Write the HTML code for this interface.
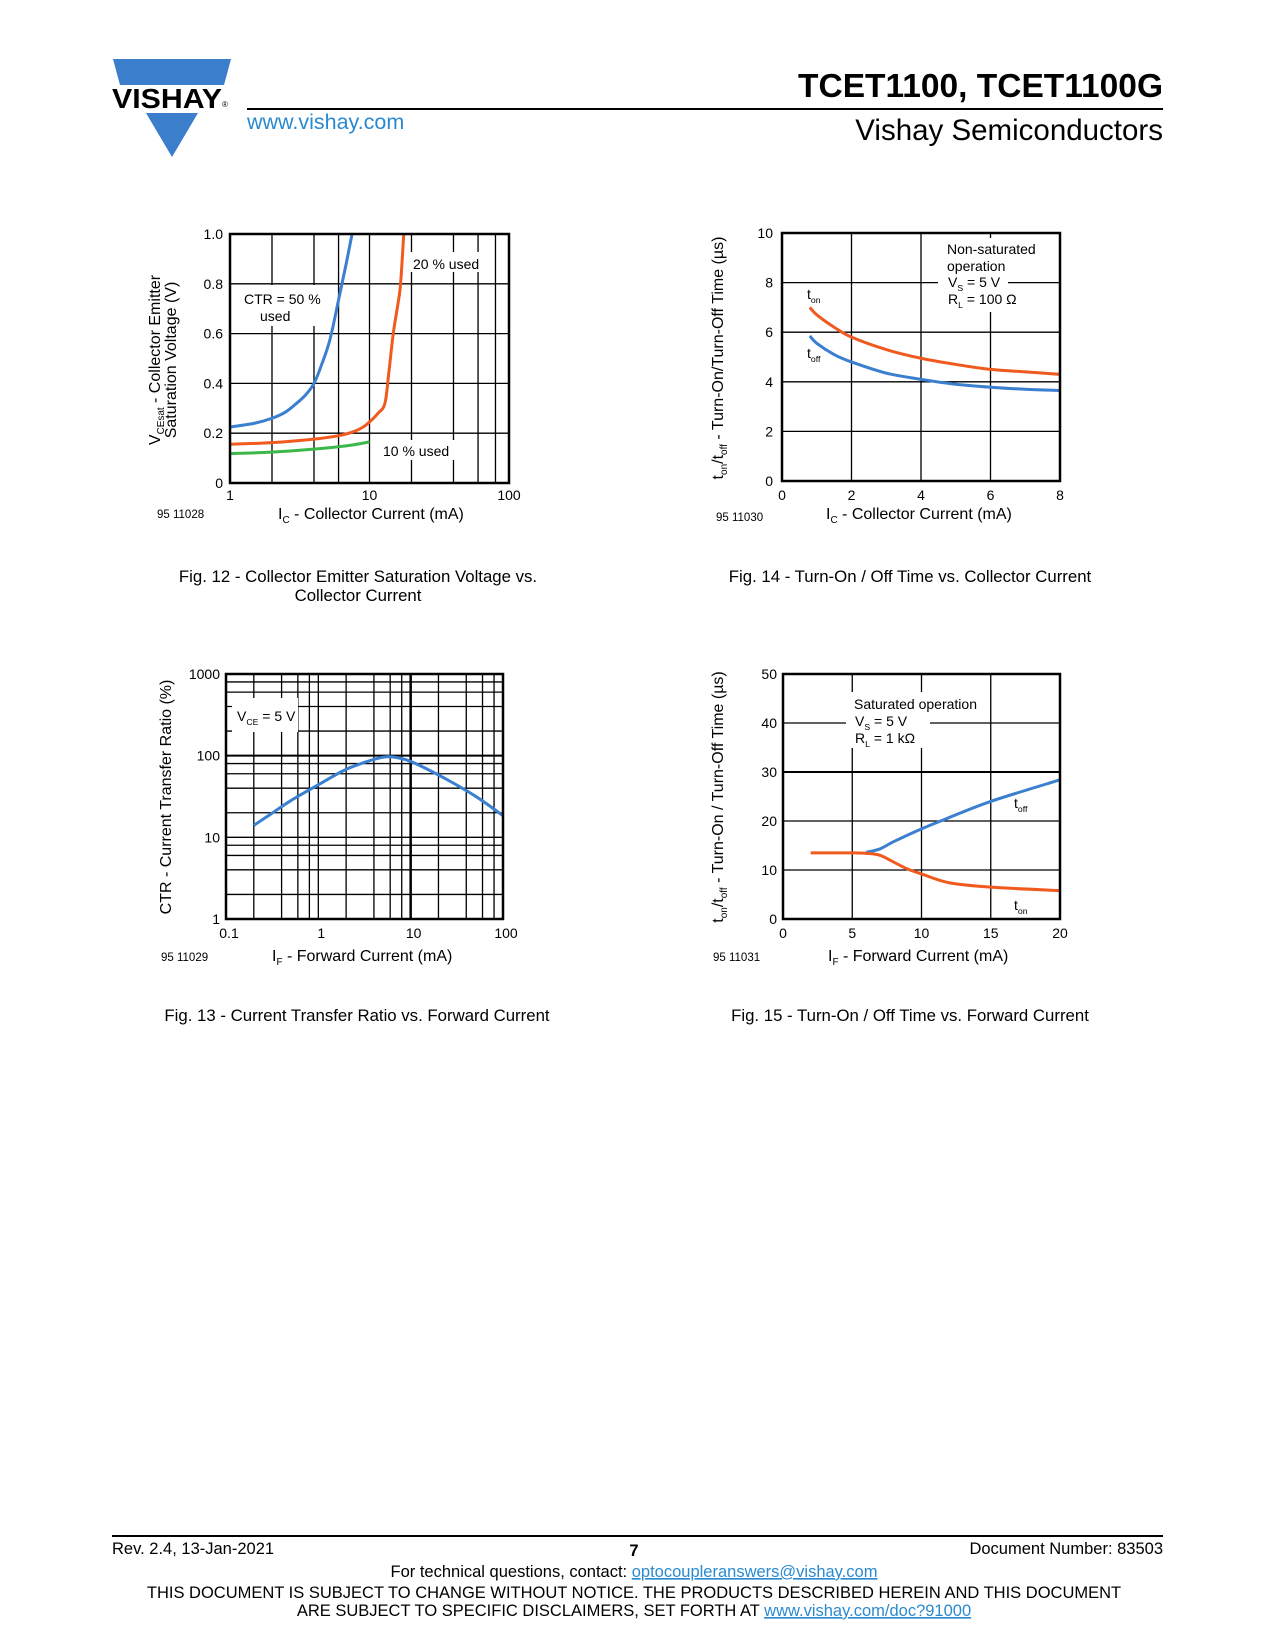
<!DOCTYPE html>
<html><head><meta charset="utf-8">
<style>
html,body{margin:0;padding:0;background:#fff;}
svg{display:block;font-family:"Liberation Sans",Arial,sans-serif;}
</style></head>
<body>
<svg id="page" width="1275" height="1650" viewBox="0 0 1275 1650" xmlns="http://www.w3.org/2000/svg">
<g>
  <polygon points="113,59 231,59 224,85 120,85" fill="#3b7fcc"/>
  <polygon points="146,113 198,113 172,157" fill="#3b7fcc"/>
  <text x="112" y="108" font-size="28" font-weight="bold" textLength="110" lengthAdjust="spacingAndGlyphs" fill="#000">VISHAY</text>
  <text x="222" y="107" font-size="8">®</text>
  <line x1="247" y1="109" x2="1163" y2="109" stroke="#000" stroke-width="2"/>
  <text x="1163" y="97" font-size="33.5" font-weight="bold" text-anchor="end">TCET1100, TCET1100G</text>
  <text x="247" y="129" font-size="21.5" fill="#2a8ad0">www.vishay.com</text>
  <text x="1163" y="140" font-size="29.5" text-anchor="end">Vishay Semiconductors</text>
</g>
<g id="charts"></g>
<g font-size="16.8" text-anchor="middle">
  <text x="358" y="582">Fig. 12 - Collector Emitter Saturation Voltage vs.</text>
  <text x="358" y="601">Collector Current</text>
  <text x="910" y="582">Fig. 14 - Turn-On / Off Time vs. Collector Current</text>
  <text x="357" y="1021">Fig. 13 - Current Transfer Ratio vs. Forward Current</text>
  <text x="910" y="1021">Fig. 15 - Turn-On / Off Time vs. Forward Current</text>
</g>
<g font-size="16.5">
  <line x1="112" y1="1536" x2="1163" y2="1536" stroke="#000" stroke-width="2"/>
  <text x="112" y="1554">Rev. 2.4, 13-Jan-2021</text>
  <text x="634" y="1556" font-weight="bold" text-anchor="middle">7</text>
  <text x="1163" y="1554" text-anchor="end">Document Number: 83503</text>
  <text x="634" y="1577" text-anchor="middle">For technical questions, contact: <tspan fill="#2a8ad0" text-decoration="underline">optocoupleranswers@vishay.com</tspan></text>
  <text x="634" y="1598" text-anchor="middle">THIS DOCUMENT IS SUBJECT TO CHANGE WITHOUT NOTICE. THE PRODUCTS DESCRIBED HEREIN AND THIS DOCUMENT</text>
  <text x="634" y="1616" text-anchor="middle">ARE SUBJECT TO SPECIFIC DISCLAIMERS, SET FORTH AT <tspan fill="#2a8ad0" text-decoration="underline">www.vishay.com/doc?91000</tspan></text>
</g>
</svg>
<script>
// Fig 12 data
const f12Blue_x = [1, 1.5, 2, 2.5, 3, 3.5, 4, 4.5, 5.2, 6, 6.8, 7.5];
const f12Blue_y = [0.225, 0.24, 0.26, 0.285, 0.32, 0.355, 0.40, 0.47, 0.575, 0.735, 0.88, 1.0];
const f12Orange_x = [1, 2, 4, 6, 7.6, 9, 10, 11.5, 12.9, 13.8, 14.8, 16, 16.7, 17.6];
const f12Orange_y = [0.156, 0.162, 0.176, 0.19, 0.205, 0.225, 0.245, 0.28, 0.32, 0.45, 0.60, 0.72, 0.80, 1.0];
const f12Green_x = [1, 2, 4, 7, 10];
const f12Green_y = [0.118, 0.124, 0.136, 0.15, 0.165];
const f12YTicks = ["0", "0.2", "0.4", "0.6", "0.8", "1.0"];
const f12XTicks = ["1", "10", "100"];
// Fig 14 data
const f14X = [0.8, 1, 1.5, 2, 3, 4, 5, 6, 7, 8];
const f14Ton = [7.0, 6.7, 6.2, 5.8, 5.3, 4.95, 4.7, 4.5, 4.4, 4.3];
const f14Toff = [5.85, 5.55, 5.1, 4.8, 4.35, 4.1, 3.9, 3.78, 3.7, 3.65];
const f14YTicks = ["0", "2", "4", "6", "8", "10"];
const f14XTicks = ["0", "2", "4", "6", "8"];
// Fig 13 data
const f13X = [0.2, 0.3, 0.5, 1, 2, 4, 5.5, 7, 10, 20, 50, 100];
const f13Ctr = [14, 19, 28, 44, 68, 90, 97, 95, 85, 58, 32, 18.4];
const f13YTicks = ["1", "10", "100", "1000"];
const f13XTicks = ["0.1", "1", "10", "100"];
// Fig 15 data
const f15TonX = [2, 4, 5, 6, 7, 8, 9, 10, 12, 15, 20];
const f15Ton = [13.5, 13.5, 13.5, 13.4, 13.0, 11.6, 10.2, 9.2, 7.4, 6.5, 5.8];
const f15ToffX = [6, 7, 8, 10, 12, 15, 20];
const f15Toff = [13.6, 14.3, 15.8, 18.4, 20.7, 24, 28.4];
const f15YTicks = ["0", "10", "20", "30", "40", "50"];
const f15XTicks = ["0", "5", "10", "15", "20"];

const NS = "http://www.w3.org/2000/svg";
const root = document.getElementById("charts");
function mk(tag, attrs, parent, txt) {
  const e = document.createElementNS(NS, tag);
  for (const k in attrs) e.setAttribute(k, attrs[k]);
  if (txt !== undefined) e.textContent = txt;
  (parent || root).appendChild(e);
  return e;
}
function linScale(d0, d1, r0, r1) { return v => r0 + (v - d0) / (d1 - d0) * (r1 - r0); }
function logScale(d0, d1, r0, r1) { return v => r0 + (Math.log10(v) - Math.log10(d0)) / (Math.log10(d1) - Math.log10(d0)) * (r1 - r0); }
function smoothPath(pts) {
  let d = "M" + pts[0][0].toFixed(1) + "," + pts[0][1].toFixed(1);
  for (let i = 0; i < pts.length - 1; i++) {
    const p0 = pts[i - 1] || pts[i], p1 = pts[i], p2 = pts[i + 1], p3 = pts[i + 2] || p2;
    const c1 = [p1[0] + (p2[0] - p0[0]) / 6, p1[1] + (p2[1] - p0[1]) / 6];
    const c2 = [p2[0] - (p3[0] - p1[0]) / 6, p2[1] - (p3[1] - p1[1]) / 6];
    d += " C" + c1.join(",") + " " + c2.join(",") + " " + p2.join(",");
  }
  return d;
}
function series(g, xs, ys, sx, sy, color, name) {
  const pts = xs.map((x, i) => [sx(x), sy(ys[i])]);
  const p = mk("path", { d: smoothPath(pts), fill: "none", stroke: color, "stroke-width": 3, "stroke-linecap": "butt" }, g);
  
  
}
function vline(g, x, y0, y1, w) { mk("line", { x1: x, y1: y0, x2: x, y2: y1, stroke: "#000", "stroke-width": w || 1.3 }, g); }
function hline(g, y, x0, x1, w) { mk("line", { x1: x0, y1: y, x2: x1, y2: y, stroke: "#000", "stroke-width": w || 1.3 }, g); }
function frame(g, L, T, R, B) {
  const r = mk("rect", { x: L, y: T, width: R - L, height: B - T, fill: "none", stroke: "#000", "stroke-width": 2.5 }, g);
  
  
}
function whiteBox(g, x, y, w, h) { mk("rect", { x: x, y: y, width: w, height: h, fill: "#fff" }, g); }
function label(g, x, y, txt, anchor, size, name) {
  const t = mk("text", { x: x, y: y, "font-size": size || 14, "text-anchor": anchor || "start" }, g, txt);
  
  
  return t;
}
function subText(g, x, y, main, sub, rest, size, anchor, name) {
  const t = mk("text", { x: x, y: y, "font-size": size || 14, "text-anchor": anchor || "start" }, g);
  
  
  mk("tspan", {}, t, main);
  mk("tspan", { "font-size": (size || 14) * 0.62, dy: 4 }, t, sub);
  if (rest) mk("tspan", { dy: -4 }, t, rest);
  return t;
}

// ---------- Fig 12 ----------
(function () {
  const g = mk("g", {});
  
  
  const L = 230, T = 234, R = 509, B = 483;
  const sx = logScale(1, 100, L, R), sy = linScale(0, 1, B, T);
  [2, 4, 6, 10, 20, 40, 60, 80].forEach(v => vline(g, sx(v), T, B));
  [0.2, 0.4, 0.6, 0.8].forEach(v => hline(g, sy(v), L, R));
  whiteBox(g, 240, 285, 88, 41);
  whiteBox(g, 408, 252, 80, 20);
  whiteBox(g, 378, 440, 80, 20);
  series(g, f12Green_x, f12Green_y, sx, sy, "#3cb84a", "series-10pct-used");
  series(g, f12Orange_x, f12Orange_y, sx, sy, "#f05a1e", "series-20pct-used");
  series(g, f12Blue_x, f12Blue_y, sx, sy, "#3a7fd0", "series-50pct-used");
  frame(g, L, T, R, B);
  label(g, 244, 304, "CTR = 50 %", "start", 14, "annotation-ctr-50");
  label(g, 260, 321, "used", "start", 14, "annotation-ctr-50-used");
  label(g, 413, 269, "20 % used", "start", 14, "annotation-20pct");
  label(g, 383, 456, "10 % used", "start", 14, "annotation-10pct");
  f12YTicks.forEach(t => label(g, 223, sy(+t) + 5, t, "end", 14, "y-tick-label"));
  f12XTicks.forEach(t => label(g, sx(+t), 500, t, "middle", 14, "x-tick-label"));
  subText(g, 278, 519, "I", "C", " - Collector Current (mA)", 16, "start", "x-axis-title");
  label(g, 157, 518, "95 11028", "start", 11.5, "figure-id");
  const yt = mk("g", { transform: "translate(160,360) rotate(-90)" }, g);
  
  
  subText(yt, 0, 0, "V", "CEsat", " - Collector Emitter", 16, "middle", "y-axis-title-line1");
  label(yt, 0, 16, "Saturation Voltage (V)", "middle", 16, "y-axis-title-line2");
})();

// ---------- Fig 14 ----------
(function () {
  const g = mk("g", {});
  
  
  const L = 782, T = 233, R = 1060, B = 481;
  const sx = linScale(0, 8, L, R), sy = linScale(0, 10, B, T);
  [2, 4, 6].forEach(v => vline(g, sx(v), T, B));
  [2, 4, 6, 8].forEach(v => hline(g, sy(v), L, R));
  whiteBox(g, 938, 238, 70, 74);
  series(g, f14X, f14Toff, sx, sy, "#3a7fd0", "series-toff");
  series(g, f14X, f14Ton, sx, sy, "#f05a1e", "series-ton");
  frame(g, L, T, R, B);
  label(g, 947, 254, "Non-saturated", "start", 14, "annotation-condition");
  label(g, 947, 271, "operation", "start", 14, "annotation-condition-2");
  subText(g, 948, 287, "V", "S", " = 5 V", 14, "start", "annotation-vs");
  subText(g, 948, 304, "R", "L", " = 100 Ω", 14, "start", "annotation-rl");
  subText(g, 807, 299, "t", "on", "", 14, "start", "label-ton");
  subText(g, 807, 358, "t", "off", "", 14, "start", "label-toff");
  f14YTicks.forEach(t => label(g, 773, sy(+t) + 5, t, "end", 14, "y-tick-label"));
  f14XTicks.forEach(t => label(g, sx(+t), 500, t, "middle", 14, "x-tick-label"));
  subText(g, 826, 519, "I", "C", " - Collector Current (mA)", 16, "start", "x-axis-title");
  label(g, 716, 521, "95 11030", "start", 11.5, "figure-id");
  const yt = mk("g", { transform: "translate(723,358) rotate(-90)" }, g);
  
  
  const t = mk("text", { x: 0, y: 0, "font-size": 16, "text-anchor": "middle" }, yt);
  
  
  mk("tspan", {}, t, "t"); mk("tspan", { "font-size": 10, dy: 4 }, t, "on");
  mk("tspan", { dy: -4 }, t, "/t"); mk("tspan", { "font-size": 10, dy: 4 }, t, "off");
  mk("tspan", { dy: -4 }, t, " - Turn-On/Turn-Off Time (µs)");
})();

// ---------- Fig 13 ----------
(function () {
  const g = mk("g", {});
  
  
  const L = 226, T = 674, R = 503, B = 919;
  const sx = logScale(0.1, 100, L, R), sy = logScale(1, 1000, B, T);
  [0.1, 1, 10].forEach(d => [2, 4, 6, 8].forEach(m => vline(g, sx(d * m), T, B)));
  vline(g, sx(1), T, B); vline(g, sx(10), T, B, 2.5);
  [1, 10, 100].forEach(d => [2, 4, 6, 8].forEach(m => hline(g, sy(d * m), L, R)));
  hline(g, sy(10), L, R); hline(g, sy(100), L, R, 2);
  whiteBox(g, 232, 698, 66, 34);
  series(g, f13X, f13Ctr, sx, sy, "#3a7fd0", "series-ctr");
  frame(g, L, T, R, B);
  subText(g, 237, 721, "V", "CE", " = 5 V", 14, "start", "annotation-vce");
  f13YTicks.forEach(t => label(g, 220, sy(+t) + 5, t, "end", 14, "y-tick-label"));
  f13XTicks.forEach(t => label(g, sx(+t) + 3, 938, t, "middle", 14, "x-tick-label"));
  subText(g, 272, 961, "I", "F", " - Forward Current (mA)", 16, "start", "x-axis-title");
  label(g, 161, 961, "95 11029", "start", 11.5, "figure-id");
  label(g, 0, 0, "CTR - Current Transfer Ratio (%)", "middle", 16, "y-axis-title")
    .setAttribute("transform", "translate(171,797) rotate(-90)");
})();

// ---------- Fig 15 ----------
(function () {
  const g = mk("g", {});
  
  
  const L = 783, T = 674, R = 1060, B = 919;
  const sx = linScale(0, 20, L, R), sy = linScale(0, 50, B, T);
  [5, 10, 15].forEach(v => vline(g, sx(v), T, B));
  [10, 20, 40].forEach(v => hline(g, sy(v), L, R));
  hline(g, sy(30), L, R, 2);
  whiteBox(g, 846, 692, 84, 56);
  series(g, f15ToffX, f15Toff, sx, sy, "#3a7fd0", "series-toff");
  series(g, f15TonX, f15Ton, sx, sy, "#f05a1e", "series-ton");
  frame(g, L, T, R, B);
  label(g, 854, 709, "Saturated operation", "start", 14, "annotation-condition");
  subText(g, 855, 726, "V", "S", " = 5 V", 14, "start", "annotation-vs");
  subText(g, 855, 743, "R", "L", " = 1 kΩ", 14, "start", "annotation-rl");
  subText(g, 1014, 808, "t", "off", "", 14, "start", "label-toff");
  subText(g, 1014, 910, "t", "on", "", 14, "start", "label-ton");
  f15YTicks.forEach(t => label(g, 777, sy(+t) + 5, t, "end", 14, "y-tick-label"));
  f15XTicks.forEach(t => label(g, sx(+t), 938, t, "middle", 14, "x-tick-label"));
  subText(g, 828, 961, "I", "F", " - Forward Current (mA)", 16, "start", "x-axis-title");
  label(g, 713, 961, "95 11031", "start", 11.5, "figure-id");
  const yt = mk("g", { transform: "translate(723,797) rotate(-90)" }, g);
  
  
  const t = mk("text", { x: 0, y: 0, "font-size": 16, "text-anchor": "middle" }, yt);
  
  
  mk("tspan", {}, t, "t"); mk("tspan", { "font-size": 10, dy: 4 }, t, "on");
  mk("tspan", { dy: -4 }, t, "/t"); mk("tspan", { "font-size": 10, dy: 4 }, t, "off");
  mk("tspan", { dy: -4 }, t, " - Turn-On / Turn-Off Time (µs)");
})();
</script>
</body></html>
